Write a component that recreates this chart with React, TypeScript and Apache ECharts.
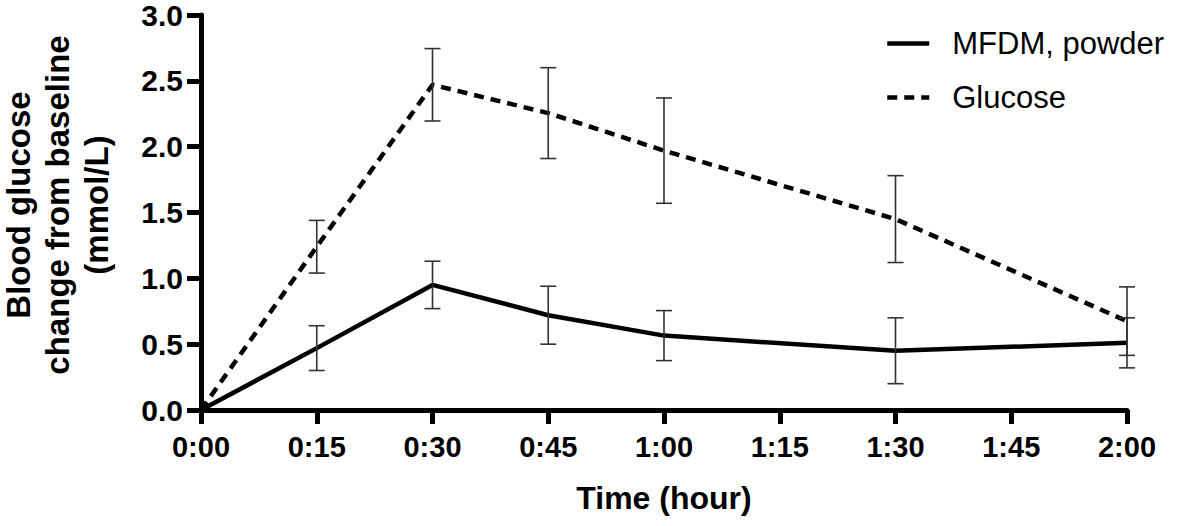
import { useEffect, useRef } from "react";
import * as echarts from "echarts";

const tickLabels = ["0:00", "0:15", "0:30", "0:45", "1:00", "1:15", "1:30", "1:45", "2:00"];
const times = [0, 15, 30, 45, 60, 90, 120];
const mfdm = [0, 0.47, 0.95, 0.72, 0.565, 0.45, 0.51];
const mfdmErr = [0, 0.17, 0.18, 0.22, 0.19, 0.25, 0.19];
const glucose = [0, 1.24, 2.47, 2.255, 1.97, 1.45, 0.675];
const glucoseErr = [0, 0.2, 0.275, 0.345, 0.4, 0.33, 0.26];
const seriesNames = ["MFDM, powder", "Glucose"];
const yTitle = "Blood glucose\nchange from baseline\n(mmol/L)";
const xTitle = "Time (hour)";

const FONT = "Arial, 'Liberation Sans', Helvetica, sans-serif";

function errData(vals: number[], errs: number[]) {
  return times
    .map((t, i) => [t, vals[i] - errs[i], vals[i] + errs[i]])
    .filter((_, i) => errs[i] > 0);
}

function renderErr(params: any, api: any) {
  const x = api.value(0);
  const lo = api.value(1);
  const hi = api.value(2);
  const top = api.coord([x, hi]);
  const bot = api.coord([x, lo]);
  const hw = 8;
  const style = { stroke: "#333", lineWidth: 1.6 };
  return {
    type: "group",
    children: [
      { type: "line", shape: { x1: top[0], y1: top[1], x2: bot[0], y2: bot[1] }, style },
      { type: "line", shape: { x1: top[0] - hw, y1: top[1], x2: top[0] + hw, y2: top[1] }, style },
      { type: "line", shape: { x1: bot[0] - hw, y1: bot[1], x2: bot[0] + hw, y2: bot[1] }, style },
    ],
  };
}

export default function App() {
  const ref = useRef<HTMLDivElement>(null);
  useEffect(() => {
    document.body.style.margin = "0";
    const chart = echarts.init(ref.current!, null, { renderer: "svg" });
    chart.setOption({
      animation: false,
      backgroundColor: "#fff",
      grid: { left: 201, right: 54, top: 15, bottom: 116, containLabel: false },
      legend: {
        data: seriesNames,
        orient: "vertical",
        left: 885,
        top: 28,
        padding: 0,
        itemWidth: 42,
        itemHeight: 14,
        itemGap: 23,
        itemStyle: { opacity: 0 },
        lineStyle: { width: 4.5, color: "#000" },
        textStyle: {
          fontSize: 31,
          fontFamily: FONT,
          color: "#000",
          padding: [0, 0, 0, 18],
        },
      },
      xAxis: {
        type: "value",
        min: 0,
        max: 120,
        interval: 15,
        name: xTitle,
        nameLocation: "middle",
        nameGap: 72,
        nameTextStyle: { fontSize: 32, fontWeight: "bold", fontFamily: FONT, color: "#000" },
        axisLine: { show: true, onZero: false, lineStyle: { color: "#000", width: 5 } },
        axisTick: { show: true, length: 14, lineStyle: { color: "#000", width: 5 } },
        axisLabel: {
          margin: 22,
          fontSize: 29,
          fontWeight: "bold",
          fontFamily: FONT,
          color: "#000",
          formatter: (v: number) => tickLabels[Math.round(v / 15)] ?? "",
        },
        splitLine: { show: false },
      },
      yAxis: {
        type: "value",
        min: 0,
        max: 3,
        interval: 0.5,
        axisLine: { show: true, lineStyle: { color: "#000", width: 5 } },
        axisTick: { show: true, length: 14, lineStyle: { color: "#000", width: 5 } },
        axisLabel: {
          margin: 18,
          fontSize: 30,
          fontWeight: "bold",
          fontFamily: FONT,
          color: "#000",
          formatter: (v: number) => v.toFixed(1),
        },
        splitLine: { show: false },
      },
      graphic: [
        {
          type: "text",
          x: 57,
          y: 205,
          rotation: Math.PI / 2,
          style: {
            text: yTitle,
            align: "center",
            verticalAlign: "middle",
            lineHeight: 39,
            fontSize: 33,
            fontWeight: "bold",
            fontFamily: FONT,
            fill: "#000",
          },
        },
      ],
      series: [
        {
          name: seriesNames[0],
          type: "line",
          data: times.map((t, i) => [t, mfdm[i]]),
          symbol: "none",
          lineStyle: { color: "#000", width: 4.5 },
          itemStyle: { color: "#000" },
          z: 3,
        },
        {
          name: seriesNames[1],
          type: "line",
          data: times.map((t, i) => [t, glucose[i]]),
          symbol: "none",
          lineStyle: { color: "#000", width: 4.5, type: [10, 7] },
          itemStyle: { color: "#000" },
          z: 3,
        },
        {
          type: "custom",
          data: errData(mfdm, mfdmErr),
          encode: { x: 0, y: [1, 2] },
          renderItem: renderErr,
          z: 4,
        },
        {
          type: "custom",
          data: errData(glucose, glucoseErr),
          encode: { x: 0, y: [1, 2] },
          renderItem: renderErr,
          z: 4,
        },
      ],
    });
    return () => chart.dispose();
  }, []);
  return <div ref={ref} style={{ width: 1181, height: 526 }} />;
}
